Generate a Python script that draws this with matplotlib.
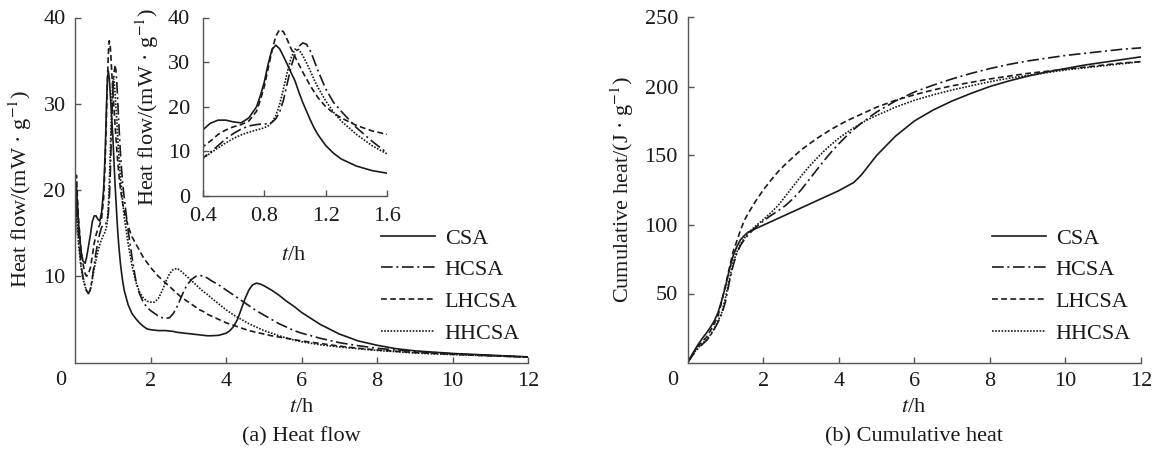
import numpy as np
import matplotlib
matplotlib.use("Agg")
import matplotlib.pyplot as plt
from matplotlib.transforms import offset_copy

plt.rcParams["font.family"] = ["Liberation Serif", "DejaVu Serif"]
plt.rcParams["mathtext.fontset"] = "stix"
plt.rcParams["font.size"] = 16

# ---- hydration heat flow (mW/g) ----
t_flow = [0, 0.03, 0.08, 0.15, 0.2, 0.26, 0.3, 0.35, 0.4, 0.45, 0.5, 0.55, 0.6, 0.65, 0.7,
          0.75, 0.775, 0.8, 0.825, 0.85, 0.875, 0.9, 0.925, 0.95, 0.975, 1.0, 1.025, 1.05,
          1.075, 1.1, 1.125, 1.15, 1.2, 1.25, 1.3, 1.4, 1.5, 1.6, 1.7, 1.8, 1.9, 2.0, 2.1,
          2.2, 2.3, 2.4, 2.5, 2.6, 2.7, 2.8, 2.9, 3.0, 3.1, 3.2, 3.3, 3.4, 3.5, 3.6, 3.8,
          4.0, 4.1, 4.2, 4.3, 4.4, 4.5, 4.6, 4.7, 4.8, 4.9, 5.0, 5.2, 5.4, 5.6, 5.8, 6.0,
          6.5, 7.0, 7.5, 8.0, 8.5, 9.0, 9.5, 10.0, 10.5, 11.0, 11.5, 12.0]

flow_csa = [15.0, 20.5, 16.5, 13.0, 11.8, 11.5, 12.2, 13.5, 14.8, 16.3, 17.0, 17.0, 16.6, 16.4, 17.5,
            20.0, 22.5, 25.5, 29.5, 32.8, 33.8, 33.0, 31.3, 29.5, 27.6, 25.8, 23.3, 21.0,
            19.0, 17.0, 15.2, 13.7, 11.3, 9.6, 8.3, 6.7, 5.7, 5.1, 4.6, 4.2, 3.9, 3.8, 3.75,
            3.7, 3.7, 3.7, 3.65, 3.6, 3.5, 3.45, 3.4, 3.35, 3.3, 3.25, 3.2, 3.15, 3.1, 3.1, 3.15,
            3.4, 3.7, 4.2, 5.0, 6.2, 7.4, 8.4, 9.0, 9.2, 9.1, 8.9, 8.4, 7.8, 7.1, 6.5, 5.8,
            4.4, 3.3, 2.5, 2.0, 1.6, 1.35, 1.2, 1.05, 0.95, 0.85, 0.75, 0.65]

flow_hcsa = [14.5, 20.0, 15.0, 11.5, 10.0, 8.8, 8.3, 8.0, 8.5, 9.8, 11.3, 12.8, 14.0, 15.0, 15.7,
             16.0, 16.1, 16.1, 16.2, 16.5, 17.3, 18.8, 21.5, 25.3, 29.0, 31.8, 33.5, 34.3,
             34.0, 32.5, 30.3, 28.0, 24.0, 21.0, 19.0, 15.3, 12.3, 9.6, 8.0, 7.0, 6.4, 6.0, 5.7,
             5.4, 5.2, 5.1, 5.2, 5.7, 6.5, 7.5, 8.5, 9.2, 9.7, 10.0, 10.1, 10.0, 9.8, 9.5, 9.0,
             8.4, 8.1, 7.8, 7.5, 7.2, 6.9, 6.6, 6.3, 6.0, 5.75, 5.5, 5.0, 4.5, 4.1, 3.7, 3.4,
             2.8, 2.3, 1.95, 1.65, 1.45, 1.3, 1.15, 1.0, 0.9, 0.8, 0.72, 0.65]

flow_lhcsa = [16.0, 21.7, 17.0, 13.0, 11.5, 10.3, 10.0, 10.3, 11.0, 12.3, 13.8, 14.8, 15.5, 16.0, 16.8,
              19.0, 21.5, 24.5, 28.5, 32.5, 35.8, 37.3, 36.8, 35.0, 33.0, 31.2, 29.5, 27.8,
              26.2, 24.7, 23.3, 22.0, 20.0, 18.6, 17.5, 15.8, 14.6, 13.8, 13.0, 12.2, 11.6, 11.0, 10.5,
              10.0, 9.6, 9.2, 8.8, 8.4, 8.0, 7.6, 7.3, 7.0, 6.7, 6.4, 6.1, 5.9, 5.6, 5.4, 5.0,
              4.6, 4.45, 4.3, 4.15, 4.0, 3.85, 3.7, 3.6, 3.5, 3.4, 3.3, 3.1, 2.95, 2.8, 2.65, 2.5,
              2.2, 1.9, 1.65, 1.45, 1.3, 1.15, 1.05, 0.95, 0.85, 0.78, 0.7, 0.62]

flow_hhcsa = [15.0, 19.0, 14.0, 11.0, 9.8, 8.8, 8.3, 8.0, 8.4, 9.6, 10.8, 11.9, 12.9, 13.7, 14.3,
              14.8, 15.0, 15.3, 15.7, 16.5, 18.0, 20.5, 24.0, 27.8, 31.0, 32.9, 32.8, 31.5,
              29.8, 28.0, 26.0, 24.3, 21.3, 18.8, 16.8, 13.8, 11.3, 9.4, 8.2, 7.5, 7.1, 7.0, 7.0,
              7.4, 8.3, 9.4, 10.3, 10.8, 10.9, 10.6, 10.2, 9.8, 9.4, 9.0, 8.6, 8.2, 7.9, 7.5, 6.8,
              6.1, 5.8, 5.5, 5.25, 5.0, 4.75, 4.5, 4.3, 4.1, 3.9, 3.7, 3.4, 3.1, 2.85, 2.6, 2.4,
              2.05, 1.8, 1.6, 1.4, 1.25, 1.1, 1.0, 0.92, 0.85, 0.78, 0.7, 0.62]

# ---- cumulative hydration heat (J/g) ----
t_cum = [0, 0.1, 0.25, 0.4, 0.5, 0.6, 0.7, 0.8, 0.9, 1.0, 1.1, 1.2, 1.3, 1.4, 1.5, 1.6, 1.8,
         2.0, 2.2, 2.4, 2.6, 2.8, 3.0, 3.2, 3.4, 3.6, 3.8, 4.0, 4.2, 4.4, 4.6, 4.8, 5.0, 5.5,
         6.0, 6.5, 7.0, 7.5, 8.0, 8.5, 9.0, 9.5, 10.0, 10.5, 11.0, 11.5, 12.0]

cum_csa = [0, 5, 12, 18, 21.5, 25.5, 30, 36, 45, 55, 67, 77, 84, 89, 92, 94.5, 97,
           99.5, 102, 104.5, 107, 109.5, 112, 114.5, 117, 119.5, 122, 124.5, 127.5, 130.5, 136, 143, 150, 164,
           175, 183, 189.5, 195, 200, 204, 207.5, 210.5, 213, 215.5, 217.5, 219.5, 221.5]

cum_hcsa = [0, 4, 9.5, 13.5, 16, 19.5, 24, 29, 35, 44, 58, 70, 79, 85, 89, 92.5, 98,
            102.5, 106.5, 110, 114, 119, 125, 132, 139, 146, 152.5, 158.5, 164, 169, 173.5, 177.5, 181.5, 189.5,
            196, 201, 205.5, 209.5, 213, 216, 218.5, 220.5, 222.5, 224, 225.5, 227, 228]

cum_lhcsa = [0, 5, 11, 15.5, 18.5, 23, 28, 33.5, 44, 56, 68, 80, 88, 96, 103, 108, 117,
             125, 132, 138.5, 144, 149, 154, 158, 162, 165.5, 169, 172, 175, 177.5, 180, 182.5, 185, 190,
             194, 197.5, 200.5, 203, 205.5, 207.5, 209.5, 211, 212.5, 214, 215.5, 217, 218]

cum_hhcsa = [0, 4.5, 10, 14, 16.5, 20, 24.5, 30, 36, 47, 60, 72, 80, 86, 90, 94, 99,
             103.5, 108.5, 114, 121, 128, 135, 141.5, 147.5, 153, 158, 162.5, 166.5, 170, 173.5, 176.5, 179, 185,
             190, 194, 197.5, 200.5, 203.5, 206, 208, 210, 212, 213.5, 215, 216.5, 218]

labels = ["CSA", "HCSA", "LHCSA", "HHCSA"]
styles = ["-", (0, (7, 2.2, 1.2, 2.2)), (0, (3.5, 2.0)), (0, (1.0, 0.9))]
ink = "#1a1a1a"
spine_col = "#555555"
lw = 1.2
FS = 16

W, H = 1157, 453
fig = plt.figure(figsize=(W / 100, H / 100), dpi=100)


def frac_box(x0, y0, x1, y1):
    return [x0 / W, 1 - y1 / H, (x1 - x0) / W, (y1 - y0) / H]


def px_text(x, y, s, **kw):
    fig.text(x / W, 1 - y / H, s, ha="center", va="center", fontsize=FS, color=ink, **kw)


def style_axes(ax):
    for s in ["top", "right"]:
        ax.spines[s].set_visible(False)
    for s in ["left", "bottom"]:
        ax.spines[s].set_color(spine_col)
        ax.spines[s].set_linewidth(1.0)
    ax.tick_params(direction="in", length=4, width=1.0, color=spine_col,
                   labelsize=FS, labelcolor=ink, pad=7)


def corner_zero(ax):
    ax.text(0, 0, "0", transform=offset_copy(ax.transAxes, fig=fig, x=-15, y=-18, units="dots"),
            ha="center", va="center", fontsize=FS, color=ink)


def add_legend(ax, x_left, y_top):
    ax.legend(loc="upper left", bbox_to_anchor=(x_left / W, 1 - y_top / H),
              bbox_transform=fig.transFigure, frameon=False, fontsize=FS,
              handlelength=2.45, handletextpad=0.42, labelspacing=0.5, borderpad=0,
              borderaxespad=0, labelcolor=ink)


flows = [flow_csa, flow_hcsa, flow_lhcsa, flow_hhcsa]
cums = [cum_csa, cum_hcsa, cum_lhcsa, cum_hhcsa]

# (a) heat flow
ax1 = fig.add_axes(frac_box(75.3, 17.5, 528, 362.5))
for y, ls, lab in zip(flows, styles, labels):
    ax1.plot(t_flow, y, ls=ls, color=ink, lw=lw, label=lab)
ax1.set_xlim(0, 12)
ax1.set_ylim(0, 40)
ax1.set_xticks([2, 4, 6, 8, 10, 12])
ax1.set_yticks([10, 20, 30, 40])
style_axes(ax1)
corner_zero(ax1)
add_legend(ax1, 381, 228)
px_text(301.6, 408, r"$t$/h")
px_text(20, 189, "Heat flow/(mW · g$^{-1}$)", rotation=90)

# inset: early hydration
axi = fig.add_axes(frac_box(202.7, 17.5, 387.3, 196))
for y, ls in zip(flows, styles):
    axi.plot(t_flow, y, ls=ls, color=ink, lw=lw)
axi.set_xlim(0.4, 1.6)
axi.set_ylim(0, 40)
axi.set_xticks([0.4, 0.8, 1.2, 1.6])
axi.set_yticks([0, 10, 20, 30, 40])
axi.patch.set_alpha(0)
style_axes(axi)
axi.tick_params(axis="x", pad=8)
axi.tick_params(axis="y", pad=9)
px_text(294, 255, r"$t$/h")
px_text(147, 107, "Heat flow/(mW · g$^{-1}$)", rotation=90)

# (b) cumulative heat
ax2 = fig.add_axes(frac_box(687.7, 17.5, 1141, 362.5))
for y, ls, lab in zip(cums, styles, labels):
    ax2.plot(t_cum, y, ls=ls, color=ink, lw=lw, label=lab)
ax2.set_xlim(0, 12)
ax2.set_ylim(0, 250)
ax2.set_xticks([2, 4, 6, 8, 10, 12])
ax2.set_yticks([50, 100, 150, 200, 250])
style_axes(ax2)
corner_zero(ax2)
add_legend(ax2, 992, 228)
px_text(913.5, 408, r"$t$/h")
px_text(622.6, 190, "Cumulative heat/(J · g$^{-1}$)", rotation=90)

px_text(301.6, 437, "(a) Heat flow")
px_text(914.4, 437, "(b) Cumulative heat")

fig.savefig("out.png", dpi=100)
